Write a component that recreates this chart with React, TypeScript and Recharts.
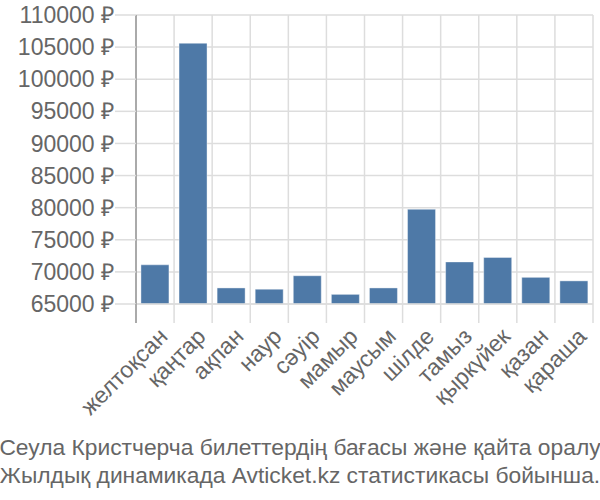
import React from "react";
import { BarChart, Bar, XAxis, YAxis, CartesianGrid } from "recharts";

const months = ["желтоқсан", "қаңтар", "ақпан", "наур", "сәуір", "мамыр", "маусым", "шілде", "тамыз", "қыркүйек", "қазан", "қараша"];
const prices = [71100, 105600, 67500, 67300, 69400, 66500, 67500, 79750, 71550, 72250, 69150, 68600];
const yTicks = [65000, 70000, 75000, 80000, 85000, 90000, 95000, 100000, 105000, 110000];
const titleLines = ["Сеула Кристчерча билеттердің бағасы және қайта оралу", "Жылдық динамикада Avticket.kz статистикасы бойынша."];

const data = months.map((m, i) => ({ month: m, price: prices[i] }));

const FONT = "'Liberation Sans', Arial, sans-serif";
const TEXT = "#666666";
const GRID = "#dddddd";
const AXIS = "#aaaaaa";

const W = 600;
const H = 500;
const LEFT = 136;
const RIGHT = 7;
const PLOT_W = W - LEFT - RIGHT;
const BAND = PLOT_W / months.length;

const XTick = (props: any) => {
  const { x, y, payload, index } = props;
  const left = x - BAND / 2;
  const tx = x + 2;
  const ty = y + 14;
  return (
    <g>
      <line x1={left} y1={y - 8} x2={left} y2={y + 11} stroke={index === 0 ? AXIS : GRID} strokeWidth={index === 0 ? 2 : 1.5} />
      {index === months.length - 1 && (
        <line x1={x + BAND / 2} y1={y - 8} x2={x + BAND / 2} y2={y + 11} stroke={GRID} strokeWidth={1.5} />
      )}
      <text
        x={tx}
        y={ty}
        transform={`rotate(-45, ${tx}, ${ty})`}
        textAnchor="end"
        dominantBaseline="hanging"
        fill={TEXT}
        fontSize={23}
        fontFamily={FONT}
      >
        {payload.value}
      </text>
    </g>
  );
};

export default function App() {
  return (
    <div style={{ position: "absolute", left: 0, top: 0, width: W, height: H, background: "#fff", overflow: "hidden" }}>
      <BarChart
        width={W}
        height={H}
        data={data}
        margin={{ top: 15, right: RIGHT, bottom: 76, left: 0 }}
        barCategoryGap="13%"
      >
        <CartesianGrid
          stroke={GRID}
          strokeWidth={1.5}
          verticalCoordinatesGenerator={(p: any) => {
            const off = p && p.offset ? p.offset : { left: LEFT, width: PLOT_W };
            return months.map((_, i) => off.left + (i * off.width) / months.length).concat([off.left + off.width]);
          }}
        />
        <XAxis
          dataKey="month"
          interval={0}
          height={120}
          axisLine={{ stroke: GRID, strokeWidth: 1.5 }}
          tickLine={false}
          tick={<XTick />}
        />
        <YAxis
          width={LEFT}
          domain={[65000, 110000]}
          ticks={yTicks}
          interval={0}
          allowDataOverflow
          tickSize={21}
          tickMargin={1}
          tickLine={{ stroke: GRID, strokeWidth: 1.5 }}
          axisLine={{ stroke: AXIS, strokeWidth: 2 }}
          tickFormatter={(v: number) => `${v} ₽`}
          tick={{ fill: TEXT, fontSize: 23, fontFamily: FONT }}
        />
        <Bar dataKey="price" fill="#4e79a7" stroke="#ffffff" strokeOpacity={0.4} isAnimationActive={false} />
      </BarChart>
      <div
        style={{
          position: "absolute",
          left: -100,
          width: W + 200,
          top: 433,
          textAlign: "center",
          fontFamily: FONT,
          fontSize: 22.8,
          lineHeight: "28px",
          color: TEXT,
          whiteSpace: "nowrap",
        }}
      >
        {titleLines.map((l) => (
          <div key={l}>{l}</div>
        ))}
      </div>
    </div>
  );
}
